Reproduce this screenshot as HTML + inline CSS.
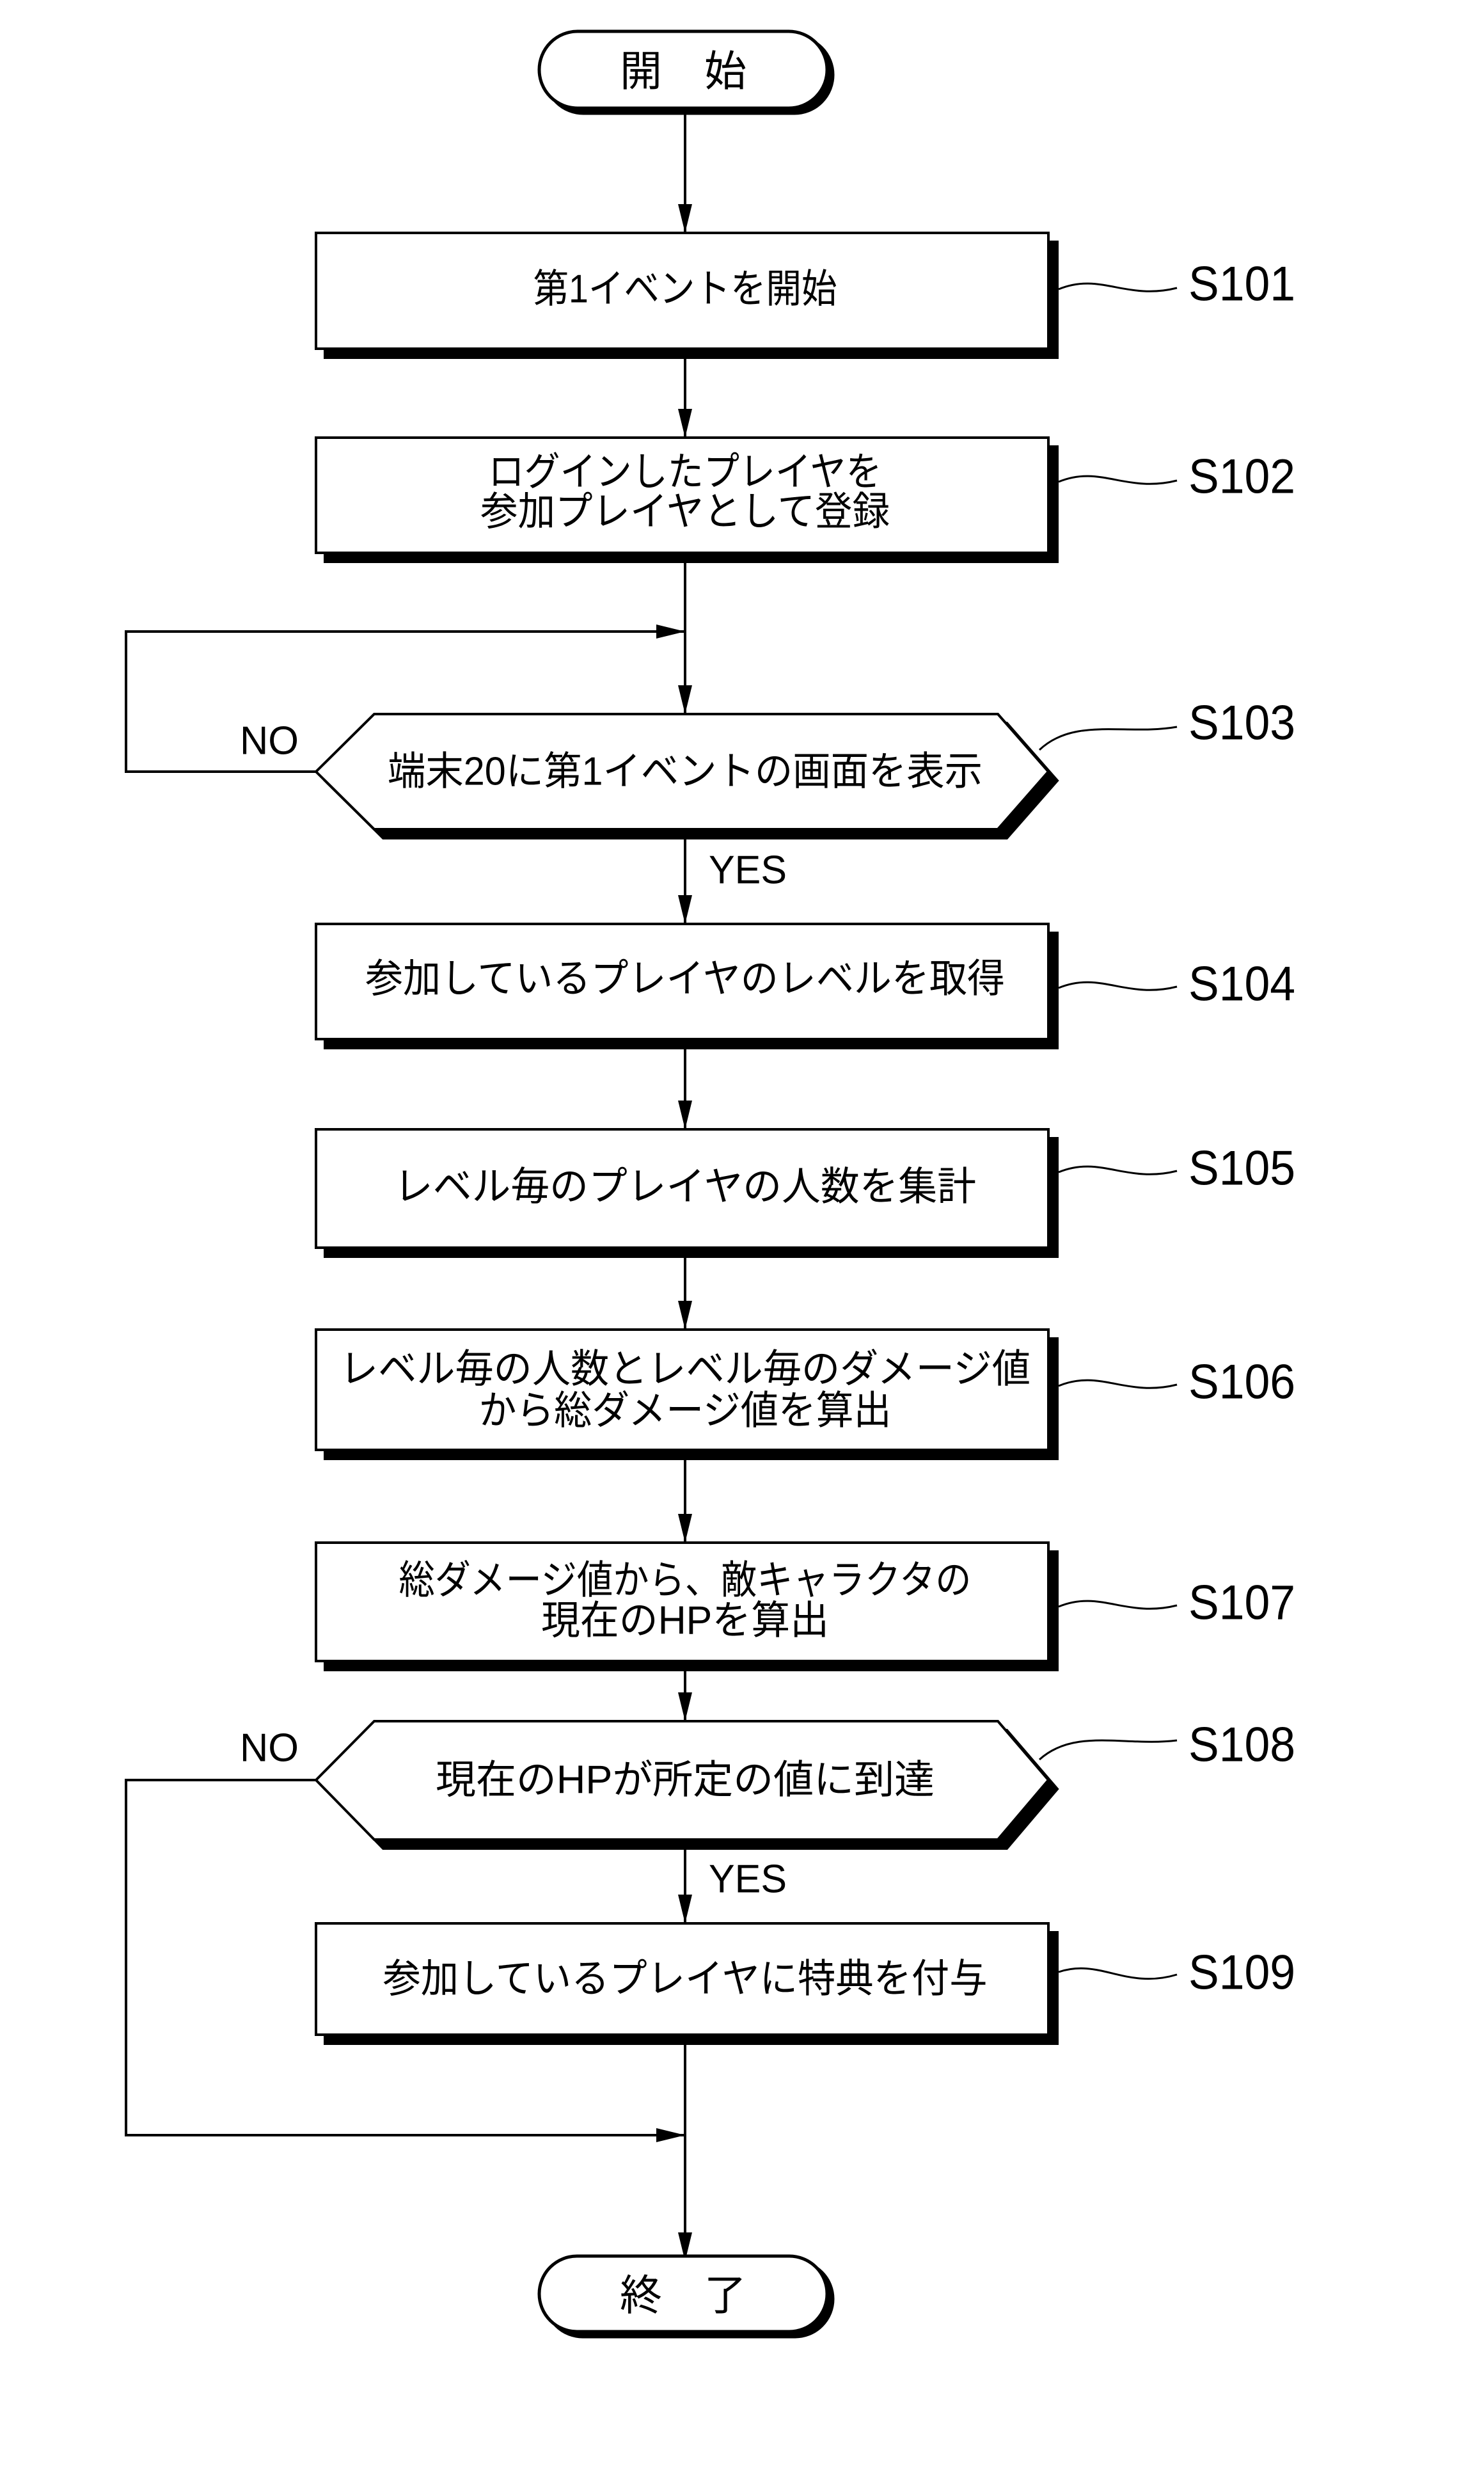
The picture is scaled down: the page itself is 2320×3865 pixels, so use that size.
<!DOCTYPE html>
<html><head><meta charset="utf-8"><style>html,body{margin:0;padding:0;background:#fff}svg{display:block}</style></head>
<body>
<svg width="2320" height="3865" viewBox="0 0 2320 3865" xmlns="http://www.w3.org/2000/svg">
<g fill="none" stroke="#000" stroke-width="4">
<path d="M1071 170 V364 M1071 550 V684 M1071 870 V1116 M1071 1296 V1444 M1071 1630 V1765 M1071 1956 V2078 M1071 2272 V2411 M1071 2602 V2690 M1071 2875 V3006 M1071 3190 V3534"/>
<path d="M494 1206 H197 V987 H1071"/>
<path d="M494 2782 H197 V3337 H1071"/>
</g>
<g fill="#000">
<path d="M1060 319 L1082 319 L1071 364 z"/>
<path d="M1060 639 L1082 639 L1071 684 z"/>
<path d="M1060 1071 L1082 1071 L1071 1116 z"/>
<path d="M1060 1399 L1082 1399 L1071 1444 z"/>
<path d="M1060 1720 L1082 1720 L1071 1765 z"/>
<path d="M1060 2033 L1082 2033 L1071 2078 z"/>
<path d="M1060 2366 L1082 2366 L1071 2411 z"/>
<path d="M1060 2645 L1082 2645 L1071 2690 z"/>
<path d="M1060 2961 L1082 2961 L1071 3006 z"/>
<path d="M1060 3489 L1082 3489 L1071 3534 z"/>
<path d="M1026 976 L1026 998 L1071 987 z"/>
<path d="M1026 3326 L1026 3348 L1071 3337 z"/>
</g>
<g stroke="#000" stroke-width="5">
<rect x="852" y="57" width="450" height="120" rx="60" fill="#000"/>
<rect x="843" y="49" width="450" height="120" rx="60" fill="#fff"/>
<rect x="852" y="3534" width="450" height="118" rx="59" fill="#000"/>
<rect x="843" y="3526" width="450" height="118" rx="59" fill="#fff"/>
</g>
<g stroke="#000" stroke-width="4">
<g fill="#000">
<rect x="508" y="378" width="1145" height="181"/>
<rect x="508" y="698" width="1145" height="180"/>
<rect x="508" y="1458" width="1145" height="180"/>
<rect x="508" y="1779" width="1145" height="185"/>
<rect x="508" y="2092" width="1145" height="188"/>
<rect x="508" y="2425" width="1145" height="185"/>
<rect x="508" y="3020" width="1145" height="174"/>
<path d="M599 1130 H1574 L1653 1220 L1574 1310 H599 L508 1220 z"/>
<path d="M599 2704 H1574 L1653 2796 L1574 2889 H599 L508 2796 z"/>
</g>
<g fill="#fff">
<rect x="494" y="364" width="1145" height="181"/>
<rect x="494" y="684" width="1145" height="180"/>
<rect x="494" y="1444" width="1145" height="180"/>
<rect x="494" y="1765" width="1145" height="185"/>
<rect x="494" y="2078" width="1145" height="188"/>
<rect x="494" y="2411" width="1145" height="185"/>
<rect x="494" y="3006" width="1145" height="174"/>
<path d="M585 1116 H1560 L1639 1206 L1560 1296 H585 L494 1206 z"/>
<path d="M585 2690 H1560 L1639 2782 L1560 2875 H585 L494 2782 z"/>
</g>
</g>
<g fill="none" stroke="#000" stroke-width="3">
<path d="M1655 452 C1720 425, 1760 470, 1840 450"/>
<path d="M1655 753 C1720 726, 1760 771, 1840 751"/>
<path d="M1625 1172 C1680 1120, 1760 1150, 1840 1136"/>
<path d="M1655 1544 C1720 1517, 1760 1562, 1840 1542"/>
<path d="M1655 1832 C1720 1805, 1760 1850, 1840 1830"/>
<path d="M1655 2166 C1720 2139, 1760 2184, 1840 2164"/>
<path d="M1655 2511 C1720 2484, 1760 2529, 1840 2509"/>
<path d="M1625 2750 C1680 2700, 1760 2730, 1840 2720"/>
<path d="M1655 3082 C1720 3060, 1760 3110, 1840 3086"/>
</g>
<g font-family="'Liberation Sans','Noto Sans CJK JP',sans-serif" fill="#000" dominant-baseline="central" text-anchor="middle">
<text x="1068" y="111" font-size="66">開　始</text>
<text x="1068" y="3587" font-size="66">終　了</text>
<text x="1071" y="452" font-size="62" textLength="475" lengthAdjust="spacingAndGlyphs">第1イベントを開始</text>
<text x="1071" y="738" font-size="62" textLength="615" lengthAdjust="spacingAndGlyphs">ログインしたプレイヤを</text>
<text x="1071" y="800" font-size="62" textLength="640" lengthAdjust="spacingAndGlyphs">参加プレイヤとして登録</text>
<text x="1071" y="1206" font-size="62" textLength="930" lengthAdjust="spacingAndGlyphs">端末20に第1イベントの画面を表示</text>
<text x="1071" y="1530" font-size="62" textLength="1000" lengthAdjust="spacingAndGlyphs">参加しているプレイヤのレベルを取得</text>
<text x="1071" y="1855" font-size="62" textLength="910" lengthAdjust="spacingAndGlyphs">レベル毎のプレイヤの人数を集計</text>
<text x="1071" y="2140" font-size="62" textLength="1080" lengthAdjust="spacingAndGlyphs">レベル毎の人数とレベル毎のダメージ値</text>
<text x="1071" y="2205" font-size="62" textLength="645" lengthAdjust="spacingAndGlyphs">から総ダメージ値を算出</text>
<text x="1071" y="2470" font-size="62" textLength="895" lengthAdjust="spacingAndGlyphs">総ダメージ値から、敵キャラクタの</text>
<text x="1071" y="2533" font-size="62" textLength="450" lengthAdjust="spacingAndGlyphs">現在のHPを算出</text>
<text x="1071" y="2782" font-size="62" textLength="780" lengthAdjust="spacingAndGlyphs">現在のHPが所定の値に到達</text>
<text x="1071" y="3093" font-size="62" textLength="945" lengthAdjust="spacingAndGlyphs">参加しているプレイヤに特典を付与</text>
</g>
<g font-family="'Liberation Sans',sans-serif" fill="#000" dominant-baseline="central" text-anchor="start" font-size="76">
<text x="1858" y="444" textLength="167" lengthAdjust="spacingAndGlyphs">S101</text>
<text x="1858" y="745" textLength="167" lengthAdjust="spacingAndGlyphs">S102</text>
<text x="1858" y="1130" textLength="167" lengthAdjust="spacingAndGlyphs">S103</text>
<text x="1858" y="1538" textLength="167" lengthAdjust="spacingAndGlyphs">S104</text>
<text x="1858" y="1826" textLength="167" lengthAdjust="spacingAndGlyphs">S105</text>
<text x="1858" y="2160" textLength="167" lengthAdjust="spacingAndGlyphs">S106</text>
<text x="1858" y="2505" textLength="167" lengthAdjust="spacingAndGlyphs">S107</text>
<text x="1858" y="2727" textLength="167" lengthAdjust="spacingAndGlyphs">S108</text>
<text x="1858" y="3083" textLength="167" lengthAdjust="spacingAndGlyphs">S109</text>
</g>
<g font-family="'Liberation Sans',sans-serif" fill="#000" dominant-baseline="central" text-anchor="start" font-size="62">
<text x="375" y="1158" textLength="92" lengthAdjust="spacingAndGlyphs">NO</text>
<text x="375" y="2732" textLength="92" lengthAdjust="spacingAndGlyphs">NO</text>
<text x="1108" y="1360" textLength="122" lengthAdjust="spacingAndGlyphs">YES</text>
<text x="1108" y="2937" textLength="122" lengthAdjust="spacingAndGlyphs">YES</text>
</g>
</svg>
</body></html>
